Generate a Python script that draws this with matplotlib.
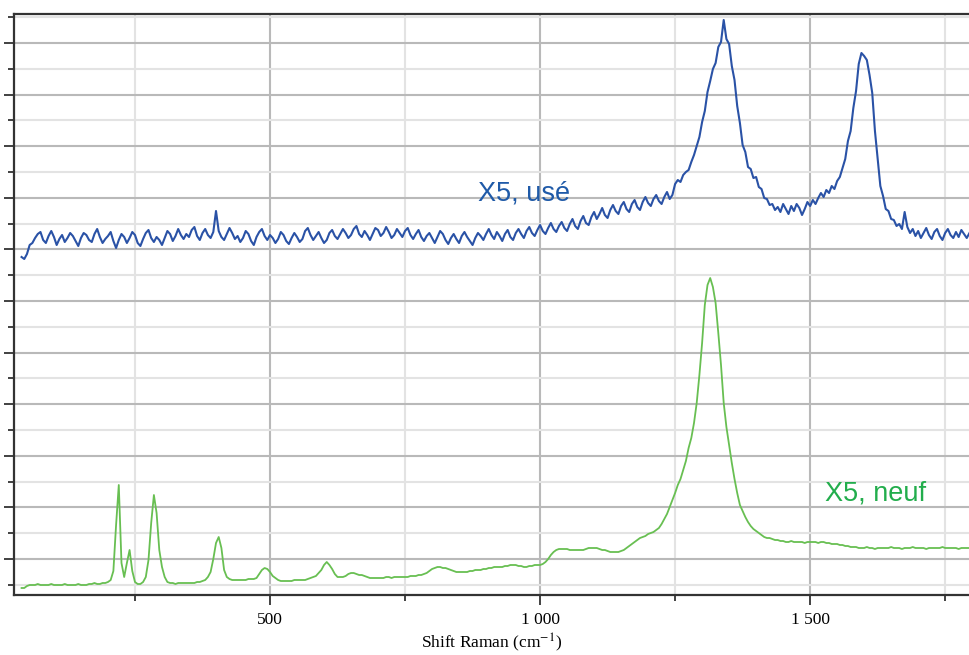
import numpy as np
import matplotlib
matplotlib.use("Agg")
import matplotlib.pyplot as plt
from matplotlib.ticker import FixedLocator, FuncFormatter

# Raman shift grid (cm-1), one point every 5 cm-1
shift = np.arange(40, 1800, 5)

# X5, usé (intensité u.a.)
use = [
    338, 336, 341, 350, 352, 357, 361, 363, 355, 352, 359, 364, 358, 350, 356, 360, 353, 357, 362, 359,
    354, 349, 357, 362, 360, 355, 353, 361, 366, 358, 352, 356, 359, 363, 354, 347, 355, 361, 358, 352,
    357, 363, 360, 352, 349, 356, 362, 365, 357, 353, 358, 355, 350, 357, 364, 361, 354, 359, 366, 360,
    356, 361, 358, 365, 368, 359, 355, 362, 366, 360, 357, 363, 384, 364, 358, 355, 361, 367, 362, 356,
    359, 353, 357, 364, 361, 354, 350, 358, 363, 366, 359, 355, 360, 357, 352, 356, 363, 360, 354, 351,
    357, 362, 358, 353, 356, 364, 367, 360, 355, 359, 363, 357, 352, 355, 362, 365, 359, 356, 361, 366,
    362, 357, 360, 366, 369, 361, 358, 364, 360, 355, 361, 367, 365, 359, 362, 368, 363, 357, 360, 366,
    362, 358, 364, 367, 360, 356, 361, 365, 358, 354, 359, 362, 357, 352, 358, 364, 361, 355, 351, 357,
    361, 356, 352, 359, 363, 358, 354, 350, 357, 362, 359, 355, 361, 366, 360, 356, 363, 359, 354, 361,
    365, 358, 355, 362, 366, 361, 357, 364, 368, 362, 359, 365, 370, 364, 361, 367, 372, 366, 363, 369,
    373, 367, 364, 371, 376, 369, 366, 374, 379, 372, 370, 378, 383, 376, 381, 387, 380, 377, 385, 390,
    384, 381, 389, 393, 386, 383, 391, 395, 388, 385, 393, 398, 392, 389, 396, 400, 394, 391, 398, 403,
    396, 400, 411, 415, 413, 420, 423, 425, 433, 440, 449, 458, 473, 484, 503, 514, 526, 532, 548, 553,
    575, 556, 551, 529, 515, 489, 472, 450, 443, 428, 426, 417, 418, 408, 406, 397, 396, 390, 391, 385,
    388, 383, 391, 386, 381, 389, 384, 391, 387, 380, 386, 393, 389, 395, 391, 397, 402, 398, 405, 402,
    409, 406, 414, 418, 427, 436, 454, 464, 487, 504, 531, 542, 539, 535, 520, 502, 464, 437, 409, 399,
    386, 384, 376, 375, 369, 371, 366, 383, 368, 362, 366, 359, 364, 357, 362, 367, 360, 356, 363, 366,
    359, 355, 362, 366, 360, 357, 363, 358, 365, 361, 357, 362,
]

# X5, neuf (intensité u.a.)
neuf = [
    7, 7, 9, 10, 10, 10, 11, 10, 10, 10, 10, 11, 10, 10, 10, 10, 11, 10, 10, 10,
    10, 11, 10, 10, 10, 11, 11, 12, 11, 11, 12, 12, 13, 15, 24, 70, 110, 32, 18, 32,
    45, 24, 13, 11, 11, 13, 18, 35, 72, 100, 82, 45, 28, 18, 13, 12, 12, 11, 12, 12,
    12, 12, 12, 12, 12, 13, 13, 14, 15, 18, 23, 36, 52, 58, 47, 25, 18, 16, 15, 15,
    15, 15, 15, 15, 16, 16, 16, 17, 21, 25, 27, 26, 23, 19, 17, 15, 14, 14, 14, 14,
    14, 15, 15, 15, 15, 15, 16, 17, 18, 19, 22, 25, 30, 33, 30, 26, 21, 18, 18, 18,
    19, 21, 22, 22, 21, 20, 20, 19, 18, 17, 17, 17, 17, 17, 17, 18, 18, 17, 18, 18,
    18, 18, 18, 18, 19, 19, 19, 20, 20, 21, 22, 24, 26, 27, 28, 28, 27, 27, 26, 25,
    24, 23, 23, 23, 23, 23, 24, 24, 25, 25, 25, 26, 26, 27, 27, 28, 28, 28, 28, 29,
    29, 30, 30, 30, 29, 29, 28, 28, 29, 29, 30, 30, 30, 31, 33, 36, 40, 43, 45, 46,
    46, 46, 46, 45, 45, 45, 45, 45, 45, 46, 47, 47, 47, 47, 46, 45, 45, 44, 43, 43,
    43, 43, 44, 45, 47, 49, 51, 53, 55, 57, 58, 59, 61, 62, 63, 65, 67, 71, 76, 81,
    88, 95, 102, 110, 116, 125, 134, 147, 157, 172, 192, 220, 252, 290, 310, 317, 308, 292, 262, 230,
    192, 168, 150, 132, 116, 102, 90, 84, 78, 73, 69, 66, 64, 62, 60, 58, 57, 57, 56, 55,
    55, 54, 54, 53, 53, 54, 53, 53, 53, 53, 52, 53, 53, 53, 53, 52, 53, 53, 52, 52,
    51, 51, 51, 50, 50, 49, 49, 48, 48, 48, 47, 47, 47, 48, 47, 47, 46, 47, 47, 47,
    47, 47, 48, 47, 47, 47, 46, 47, 47, 47, 48, 47, 47, 47, 47, 46, 47, 47, 47, 47,
    47, 48, 47, 47, 47, 47, 47, 46, 47, 47, 47, 47,
]

x_major = [500, 1000, 1500]
x_minor = [250, 750, 1250, 1750]

plt.rcParams['mathtext.fontset'] = 'stix'

fig = plt.figure(figsize=(9.7, 6.55), dpi=100)
ax = fig.add_axes([14 / 970, 60 / 655, 956 / 970, 581 / 655])

ax.plot(shift, use, color="#2a52a6", lw=1.5)
ax.plot(shift, neuf, color="#68bf52", lw=1.3)

ax.set_xlim(26, 1796)
ax.set_ylim(0, 581)

ax.xaxis.set_major_locator(FixedLocator(x_major))
ax.xaxis.set_minor_locator(FixedLocator(x_minor))
ax.xaxis.set_major_formatter(FuncFormatter(lambda v, p: f"{int(v):,}".replace(",", " ")))
ax.yaxis.set_major_locator(FixedLocator(36 + 51.6 * np.arange(11)))
ax.yaxis.set_minor_locator(FixedLocator(10.2 + 51.6 * np.arange(12)))

ax.grid(which="major", color="#b9b9b9", lw=1.5)
ax.grid(which="minor", color="#e3e3e3", lw=1.5)
ax.set_axisbelow(True)

for s in ["left", "bottom", "top"]:
    ax.spines[s].set_color("#333333")
    ax.spines[s].set_linewidth(1.6)
ax.spines["right"].set_visible(False)

ax.tick_params(which="major", length=7, width=1.3, color="#333333", direction="out")
ax.tick_params(which="minor", length=4.5, width=1.3, color="#333333", direction="out")
ax.tick_params(axis="y", labelleft=False)
ax.tick_params(axis="x", labelsize=12.5, pad=5)
for lab in ax.get_xticklabels():
    lab.set_family("Liberation Serif")

ax.set_xlabel("Shift Raman (cm$^{-1}$)", family="Liberation Serif", fontsize=12.5, labelpad=3)

ax.text(885, 395, "X5, usé", color="#1f5aa8", fontsize=19.5, family="Liberation Sans", va="baseline")
ax.text(1528, 95, "X5, neuf", color="#22ad4c", fontsize=19.5, family="Liberation Sans", va="baseline")

fig.savefig("out.png", dpi=100)
